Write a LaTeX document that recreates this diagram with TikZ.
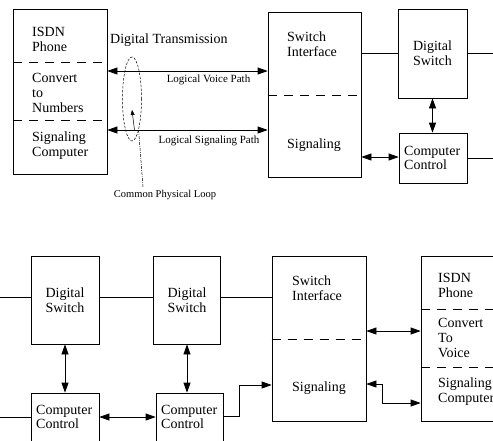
\documentclass[tikz,border=0pt]{standalone}
\usepackage{fontspec}
\setmainfont{Liberation Serif}
\usetikzlibrary{arrows.meta,shapes.geometric}
\begin{document}
\begin{tikzpicture}[x=1pt,y=-1pt,
  box/.style={draw,line width=0.7pt,inner sep=0pt,rectangle},
  wire/.style={line width=0.7pt},
  tip/.tip={Triangle[length=10pt,width=7pt]},
  both/.style={wire,tip-tip},
  onearrow/.style={wire,-tip},
  sep/.style={line width=0.7pt,dash pattern=on 9pt off 7pt},
  txt/.style={font=\fontsize{14}{15}\selectfont,align=left,inner sep=0pt,anchor=west},
  ctxt/.style={font=\fontsize{14}{15}\selectfont,align=center,inner sep=0pt},
  small/.style={font=\fontsize{11}{13}\selectfont,inner sep=0pt}
]
\useasboundingbox (0,0) rectangle (493,440);
\clip (0,0) rectangle (493,440);

% ---------- upper half: subscriber side to first exchange ----------
\node[box,minimum width=94pt,minimum height=165pt] (isdnA) at (60,91.5) {};
\node[box,minimum width=93pt,minimum height=165pt] (siA) at (314.5,94.5) {};
\node[box,minimum width=69pt,minimum height=89pt] (dsA) at (432.5,53.5) {};
\node[box,minimum width=68pt,minimum height=50pt] (ccA) at (433,158) {};

\draw[sep] (isdnA.west |- 0,62) -- (isdnA.east |- 0,62);
\draw[sep] (isdnA.west |- 0,120) -- (isdnA.east |- 0,120);
\draw[sep] (siA.west |- 0,95) -- (siA.east |- 0,95);

\node[txt] (tA1) at (32,39.5) {ISDN\\Phone};
\node[txt] (tA2) at (32,93) {Convert\\to\\Numbers};
\node[txt] (tA3) at (32,145.5) {Signaling\\Computer};
\node[txt] (tA4) at (287,44) {Switch\\Interface};
\node[txt] (tA5) at (287,145) {Signaling};
\node[ctxt] (tA6) at (dsA) {Digital\\Switch};
\node[txt] (tA7) at (404,158) {Computer\\[-1pt]Control};
\node[txt] (tA8) at (110,40) {Digital Transmission};

\draw[both] (isdnA.east |- 0,71) -- (siA.west |- 0,71);
\draw[both] (isdnA.east |- 0,130) -- (siA.west |- 0,130);
\node[small] (lv) at (208.5,80) {Logical Voice Path};
\node[small] (ls) at (209,141) {Logical Signaling Path};

\draw[wire] (siA.east |- 0,53) -- (dsA.west |- 0,53);
\coordinate (outA1) at (493,53);
\coordinate (outA2) at (493,158);
\draw[wire] (dsA.east |- outA1) -- (outA1);
\draw[wire] (ccA.east |- outA2) -- (outA2);
\draw[both] (dsA.south) -- (dsA.south |- ccA.north);
\draw[both] (siA.east |- 0,157) -- (ccA.west |- 0,157);

% the single physical loop carrying both logical paths
\node[draw,ellipse,line width=0.5pt,dash pattern=on 2.5pt off 1.5pt,
      minimum width=19pt,minimum height=84pt,inner sep=0pt] (loop) at (132,99) {};
\coordinate (loopTail) at (143,187);
\draw[line width=0.5pt,dash pattern=on 3pt off 1.2pt on 0.6pt off 1.2pt] (loop.-78) -- (loopTail);
\coordinate (mkA) at (134.5,130);
\coordinate (mkB) at (132,110);
\draw[line width=0.5pt,-{Triangle[length=5pt,width=4pt]}] (mkA) -- (mkB);
\node[font=\fontsize{10.5}{12}\selectfont,inner sep=0pt] (cpl) at (165,195) {Common Physical Loop};

% ---------- lower half: trunk through exchanges to far subscriber ----------
\node[box,minimum width=68pt,minimum height=88pt] (dsB) at (65,300) {};
\node[box,minimum width=67pt,minimum height=88pt] (dsC) at (187,300) {};
\node[box,minimum width=68pt,minimum height=70pt] (ccB) at (65,428) {};
\node[box,minimum width=67pt,minimum height=70pt] (ccC) at (189.5,428) {};
\node[box,minimum width=94pt,minimum height=165pt] (siB) at (319,338.5) {};
\node[box,minimum width=99pt,minimum height=165pt] (isdnB) at (470.5,338.5) {};

\draw[sep] (siB.west |- 0,339) -- (siB.east |- 0,339);
\draw[sep] (isdnB.west |- 0,309) -- (isdnB.east |- 0,309);
\draw[sep] (isdnB.west |- 0,367) -- (isdnB.east |- 0,367);

\node[ctxt] (tB1) at (dsB) {Digital\\Switch};
\node[ctxt] (tB2) at (dsC) {Digital\\Switch};
\node[txt] (tB3) at (36,417) {Computer\\[-1pt]Control};
\node[txt] (tB4) at (161,417) {Computer\\[-1pt]Control};
\node[txt] (tB5) at (292,288.5) {Switch\\Interface};
\node[txt] (tB6) at (292,388) {Signaling};
\node[txt] (tB7) at (438,285) {ISDN\\Phone};
\node[txt] (tB8) at (438,337.5) {Convert\\To\\Voice};
\node[txt] (tB9) at (438,392) {Signaling\\Computer};

\coordinate (inB1) at (0,297);
\coordinate (inB2) at (0,417);
\draw[wire] (inB1) -- (dsB.west |- inB1);
\draw[wire] (inB2) -- (ccB.west |- inB2);
\draw[wire] (dsB.east |- 0,297) -- (dsC.west |- 0,297);
\draw[wire] (dsC.east |- 0,297) -- (siB.west |- 0,297);
\draw[both] (dsB.south) -- (dsB.south |- ccB.north);
\draw[both] (dsC.south) -- (dsC.south |- ccC.north);
\draw[both] (ccB.east |- 0,417) -- (ccC.west |- 0,417);
\draw[onearrow] (ccC.east |- 0,416) -- (239,416) -- (239,385) -- (siB.west |- 0,385);
\draw[both] (siB.east |- 0,331) -- (isdnB.west |- 0,331);
\draw[both] (siB.east |- 0,384) -- (382,384) -- (382,403) -- (isdnB.west |- 0,403);
\end{tikzpicture}
\end{document}
